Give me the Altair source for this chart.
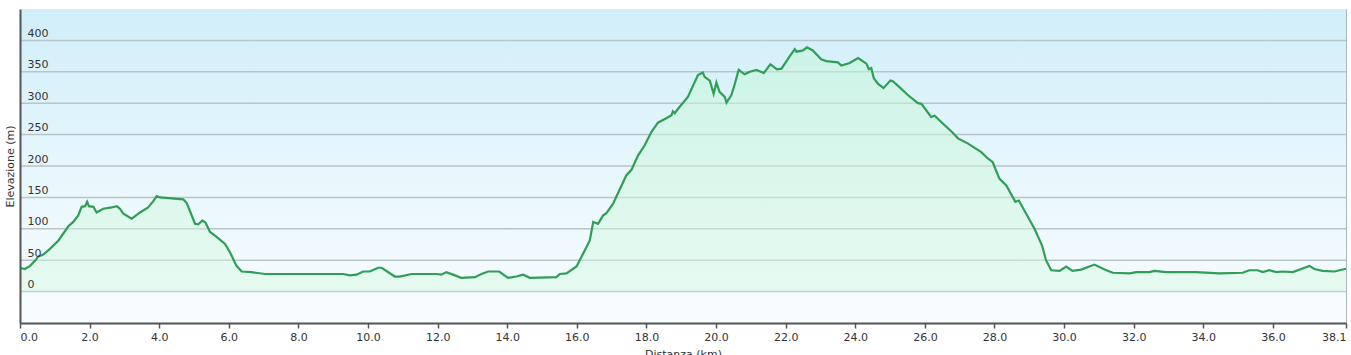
import altair as alt
import pandas as pd

distance_km = [
    0.00, 0.14, 0.29, 0.43, 0.53, 0.67, 0.86, 1.10, 1.39, 1.53, 1.67, 1.77, 1.87, 1.93, 1.98,
    2.11, 2.20, 2.39, 2.63, 2.78, 2.87, 2.97, 3.21, 3.45, 3.68, 3.83, 3.93, 4.02, 4.69, 4.79,
    5.03, 5.12, 5.24, 5.33, 5.46, 5.65, 5.89, 6.03, 6.22, 6.37, 6.65, 7.04, 9.29, 9.48, 9.67,
    9.86, 10.05, 10.29, 10.39, 10.77, 10.91, 11.25, 11.97, 12.11, 12.25, 12.44, 12.68, 13.07,
    13.26, 13.45, 13.77, 14.02, 14.26, 14.46, 14.65, 15.41, 15.51, 15.70, 15.99, 16.37, 16.47,
    16.61, 16.75, 16.85, 17.04, 17.42, 17.57, 17.76, 17.95, 18.14, 18.33, 18.57, 18.72, 18.76,
    18.81, 18.95, 19.10, 19.19, 19.48, 19.62, 19.67, 19.82, 19.93, 20.01, 20.10, 20.25, 20.30,
    20.44, 20.53, 20.65, 20.82, 20.97, 21.16, 21.37, 21.56, 21.75, 21.88, 22.11, 22.26, 22.31,
    22.50, 22.61, 22.78, 23.02, 23.17, 23.50, 23.60, 23.84, 24.08, 24.32, 24.39, 24.46, 24.53,
    24.65, 24.81, 25.01, 25.08, 25.30, 25.51, 25.80, 25.90, 26.18, 26.28, 26.57, 26.80, 26.95,
    27.23, 27.62, 27.81, 27.95, 28.14, 28.34, 28.60, 28.70, 29.15, 29.37, 29.48, 29.63, 29.87,
    30.06, 30.24, 30.49, 30.87, 31.21, 31.40, 31.88, 32.07, 32.45, 32.60, 32.93, 33.79, 34.46,
    35.13, 35.32, 35.56, 35.71, 35.90, 36.09, 36.28, 36.57, 37.05, 37.19, 37.43, 37.77, 38.06,
    38.10,
]
elevation_m = [
    38, 36, 41, 49, 56, 59, 68, 81, 104, 111, 121, 135, 136, 143, 136,
    135, 126, 132, 134, 136, 132, 124, 116, 126, 134, 144, 152, 150, 147, 141,
    108, 107, 113, 110, 95, 87, 76, 63, 41, 32, 31, 28, 28, 26, 27,
    32, 32, 38, 38, 24, 24, 28, 28, 27, 31, 27, 22, 23,
    28, 32, 32, 22, 24, 27, 22, 23, 28, 29, 40, 81, 111,
    108, 121, 125, 140, 185, 194, 217, 233, 254, 269, 276, 281, 287,
    284, 294, 304, 310, 345, 349, 342, 336, 315, 333, 318, 310, 301,
    313, 329, 353, 346, 350, 353, 348, 362, 354, 355, 374, 386, 382,
    384, 389, 384, 370, 367, 365, 360, 364, 372, 363, 354, 356, 340,
    331, 324, 336, 335, 324, 313, 300, 299, 278, 280, 265, 253, 244,
    236, 222, 212, 206, 180, 169, 143, 145, 100, 73, 50, 34, 33,
    40, 33, 35, 43, 34, 30, 29, 31, 31, 33, 31, 31, 29,
    30, 34, 34, 31, 34, 31, 32, 31, 41, 36, 33, 32, 36,
    36,
]
y_ticks = [0, 50, 100, 150, 200, 250, 300, 350, 400]
x_ticks = [0, 2, 4, 6, 8, 10, 12, 14, 16, 18, 20, 22, 24, 26, 28, 30, 32, 34, 36, 38.1]
y_domain = [-50, 450]
x_domain = [0, 38.1]

W, H = 1326, 314
FONT = "DejaVu Sans"

profile = pd.DataFrame({"d": distance_km, "e": elevation_m})
grid = pd.DataFrame({"e": y_ticks})

x_scale = alt.Scale(domain=x_domain, nice=False, zero=False)
y_scale = alt.Scale(domain=y_domain, nice=False, zero=False)

x_axis = alt.Axis(
    title="Distanza (km)", values=x_ticks, format=".1f", grid=False,
    labelFlush=True, tickSize=5, tickColor="#555555", tickWidth=1.5,
    domainColor="#555555", domainWidth=2, labelPadding=3, labelFontSize=11,
    labelFont=FONT, labelColor="#333333", titleFont=FONT, titleFontSize=11,
    titleFontWeight="normal", titleColor="#333333", titlePadding=6, zindex=1,
)
y_axis = alt.Axis(
    title="Elevazione (m)", values=y_ticks, grid=False, ticks=False, tickSize=0,
    labelAlign="left", labelPadding=-7, labelBaseline="alphabetic", labelOffset=-4,
    domainColor="#555555", domainWidth=2, labelFontSize=11, labelFont=FONT,
    labelColor="#333333", titleFont=FONT, titleFontSize=11, titleFontWeight="normal",
    titleColor="#333333", titleX=-5, titleY=H / 2, titleBaseline="bottom",
    titleAngle=270, zindex=1,
)

bg = alt.Chart(pd.DataFrame({"a": [0]})).mark_rect(
    fill={"gradient": "linear", "x1": 0, "y1": 0, "x2": 0, "y2": 1,
          "stops": [{"offset": 0, "color": "#d0eefa"},
                    {"offset": 0.6, "color": "#ebf8fd"},
                    {"offset": 1, "color": "#f8fcff"}]},
).encode(x=alt.value(0), x2=alt.value(W), y=alt.value(0), y2=alt.value(H))

rules = alt.Chart(grid).mark_rule(color="#b7c5ca", strokeWidth=1.5).encode(
    y=alt.Y("e:Q", scale=y_scale, axis=y_axis)
)

area = alt.Chart(profile).mark_area(
    fill={"gradient": "linear", "x1": 0, "y1": 0, "x2": 0, "y2": 1,
          "stops": [{"offset": 0, "color": "rgba(195,246,212,0.5)"},
                    {"offset": 1, "color": "rgba(212,248,222,0.45)"}]},
).encode(
    x=alt.X("d:Q", scale=x_scale, axis=x_axis),
    y=alt.Y("e:Q", scale=y_scale, axis=y_axis),
    y2=alt.value(H),
)

line = alt.Chart(profile).mark_line(color="#2f9e57", strokeWidth=2.2).encode(
    x=alt.X("d:Q", scale=x_scale, axis=x_axis),
    y=alt.Y("e:Q", scale=y_scale, axis=y_axis),
)

chart = alt.layer(bg, rules, area, line).properties(
    width=W, height=H,
    autosize=alt.AutoSizeParams(type="none"),
    padding={"left": 20, "top": 9, "right": 5, "bottom": 32},
    background="white",
).configure_view(stroke="#a9b9bf", strokeWidth=1)

chart.save("out.html", embed_options={"renderer": "svg", "actions": False})
